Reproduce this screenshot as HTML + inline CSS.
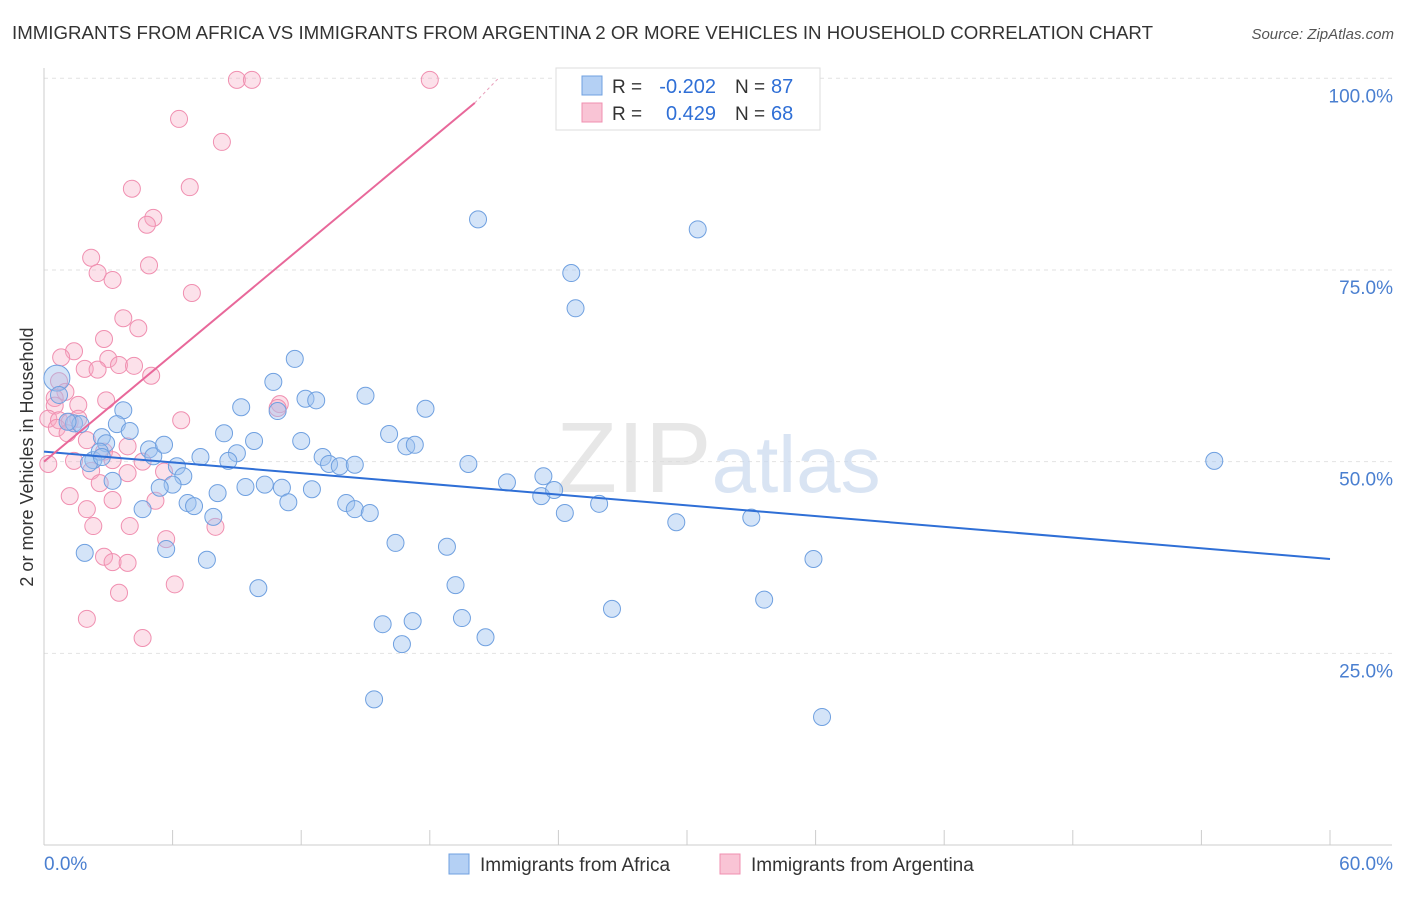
<!DOCTYPE html>
<html><head><meta charset="utf-8">
<style>
body{margin:0;background:#fff;font-family:"Liberation Sans",sans-serif;}
svg text{font-family:"Liberation Sans",sans-serif;}
</style></head>
<body>
<svg id="chart" width="1406" height="892" xmlns="http://www.w3.org/2000/svg">
<text x="12" y="39" font-size="18" fill="#333" textLength="1141" lengthAdjust="spacingAndGlyphs">IMMIGRANTS FROM AFRICA VS IMMIGRANTS FROM ARGENTINA 2 OR MORE VEHICLES IN HOUSEHOLD CORRELATION CHART</text>
<text x="1394" y="39" font-size="15" fill="#555" font-style="italic" text-anchor="end">Source: ZipAtlas.com</text>
<g id="grid"></g>
<text x="556" y="492" font-size="100" fill="#ddd" font-family="Liberation Serif" opacity="0.7">ZIP<tspan fill="#c9d9ef" font-family="Liberation Sans" font-size="80">atlas</tspan></text>
<g id="axes"></g>
<g id="pts"></g>
<g id="trends"></g>
<text transform="translate(33,457) rotate(-90)" font-size="18" fill="#333" text-anchor="middle">2 or more Vehicles in Household</text>
<g>
<rect x="556" y="68" width="264" height="62" fill="#fff" stroke="#ddd"/>
<rect x="582" y="76" width="20" height="19" fill="#b4d0f4" stroke="#6fa0e0"/>
<rect x="582" y="103" width="20" height="19" fill="#f9c4d5" stroke="#f08fb0"/>
<text x="612" y="93" font-size="19" fill="#333">R =</text>
<text x="716" y="93" font-size="20" fill="#2f6fd6" text-anchor="end">-0.202</text>
<text x="735" y="93" font-size="19" fill="#333">N =</text>
<text x="771" y="93" font-size="20" fill="#2f6fd6">87</text>
<text x="612" y="120" font-size="19" fill="#333">R =</text>
<text x="716" y="120" font-size="20" fill="#2f6fd6" text-anchor="end">0.429</text>
<text x="735" y="120" font-size="19" fill="#333">N =</text>
<text x="771" y="120" font-size="20" fill="#2f6fd6">68</text>
</g>
<g>
<rect x="449" y="854" width="20" height="20" fill="#b4d0f4" stroke="#6fa0e0"/>
<text x="480" y="871" font-size="19" fill="#333">Immigrants from Africa</text>
<rect x="720" y="854" width="20" height="20" fill="#f9c4d5" stroke="#f08fb0"/>
<text x="751" y="871" font-size="19" fill="#333">Immigrants from Argentina</text>
</g>
</svg>
<script>
const yTicks=[25,50,75,100];
const yTickLabels=["25.0%","50.0%","75.0%","100.0%"];
const xTickLabels=["0.0%","60.0%"];
const africaX=[20.25,30.5,24.6,24.8,54.6,11.7,10.7,15.0,12.2,12.7,17.8,10.9,9.2,3.7,3.4,4.0,8.4,9.8,12.0,16.1,16.9,17.3,2.7,2.9,4.9,5.1,5.6,7.3,9.0,8.6,13.0,13.3,13.8,14.5,19.8,23.3,21.6,2.3,2.1,6.2,6.5,6.0,5.4,3.2,8.1,9.4,10.3,11.1,12.5,11.4,14.1,14.5,15.2,6.7,7.0,7.9,4.6,23.2,23.8,24.3,25.9,29.5,33.0,16.4,18.8,5.7,1.9,7.6,35.9,10.0,19.2,33.6,26.5,15.8,17.2,19.5,20.6,16.7,15.4,36.3,0.6,0.7,1.4,1.7,1.1,2.6,2.7];
const africaY=[81.6,80.3,74.6,70.0,50.1,63.4,60.4,58.6,58.2,58.0,56.9,56.6,57.1,56.7,54.9,54.0,53.7,52.7,52.7,53.6,52.0,52.2,53.2,52.4,51.6,50.7,52.2,50.6,51.1,50.1,50.6,49.7,49.4,49.6,49.7,48.1,47.3,50.2,49.8,49.4,48.1,47.0,46.6,47.5,45.9,46.7,47.0,46.6,46.4,44.7,44.6,43.8,43.3,44.6,44.2,42.8,43.8,45.5,46.3,43.3,44.5,42.1,42.7,39.4,38.9,38.6,38.1,37.2,37.3,33.5,33.9,32.0,30.8,28.8,29.2,29.6,27.1,26.2,19.0,16.7,60.9,58.7,55.0,54.9,55.2,51.3,50.6];
const argX=[9.0,9.7,18.0,6.3,8.3,4.1,6.8,5.1,4.8,2.2,4.9,2.5,3.2,6.9,3.7,4.4,2.8,1.4,0.8,3.0,3.5,4.2,1.9,2.5,5.0,0.7,1.0,0.5,2.9,1.6,0.5,11.0,10.9,6.4,0.2,0.7,1.2,1.6,0.6,1.1,2.0,3.9,2.8,3.2,1.4,4.6,0.2,5.6,3.9,2.2,2.6,5.2,3.2,1.2,2.0,2.3,4.0,5.7,8.0,2.8,3.2,3.9,6.1,3.5,2.0,4.6];
const argY=[99.8,99.8,99.8,94.7,91.7,85.6,85.8,81.8,80.9,76.6,75.6,74.6,73.7,72.0,68.7,67.4,66.0,64.4,63.6,63.4,62.6,62.5,62.1,62.0,61.2,60.5,59.1,58.3,58.0,57.4,57.3,57.5,57.0,55.4,55.6,55.4,55.2,55.6,54.4,53.7,52.8,52.0,51.3,50.2,50.1,50.0,49.7,48.7,48.5,48.8,47.2,44.9,45.0,45.5,43.8,41.6,41.6,39.9,41.5,37.6,36.9,36.8,34.0,32.9,29.5,27.0];
const africaTrend=[[0,51.3],[60,37.3]];
const argTrend=[[0,50.0],[20.1,96.8]];
const argTrendExt=[[20.1,96.8],[21.2,100]];

const X=v=>44+v*(1286/60);
const Y=v=>845-v*(766.7/100);
const NS="http://www.w3.org/2000/svg";
function mk(tag,attrs,parent){const e=document.createElementNS(NS,tag);for(const k in attrs)e.setAttribute(k,attrs[k]);parent.appendChild(e);return e;}
const grid=document.getElementById('grid'),axes=document.getElementById('axes'),pts=document.getElementById('pts'),tr=document.getElementById('trends');
yTicks.forEach((t,i)=>{
 const l=mk('line',{x1:44,x2:1392,y1:Y(t),y2:Y(t),stroke:'#e2e2e2','stroke-dasharray':'4,4'},grid);
 
 
 const tx=mk('text',{x:1393,y:Y(t)+24,'font-size':19,fill:'#4a7fd0','text-anchor':'end'},axes);
 tx.textContent=yTickLabels[i];
 
 
});
const al=mk('line',{x1:44,x2:44,y1:68,y2:845,stroke:'#ccc'},axes);


const bl=mk('line',{x1:44,x2:1392,y1:845,y2:845,stroke:'#ccc'},axes);


for(let i=0;i<=10;i++){
 const t=mk('line',{x1:X(i*6),x2:X(i*6),y1:830,y2:845,stroke:'#ccc'},axes);
 
 
}
const x0=mk('text',{x:44,y:870,'font-size':19,fill:'#4a7fd0'},axes);x0.textContent=xTickLabels[0];


const x1=mk('text',{x:1393,y:870,'font-size':19,fill:'#4a7fd0','text-anchor':'end'},axes);x1.textContent=xTickLabels[1];


function drawPts(xs,ys,fill,stroke,name){
 xs.forEach((v,i)=>{
  const r=(i===80&&name==='africa-point')?13:8.5;
  const c=mk('circle',{cx:X(v),cy:Y(ys[i]),r:r,fill:fill,stroke:stroke,'stroke-width':1},pts);
  
  
 });
}
drawPts(argX,argY,'rgba(245,170,195,0.35)','#f08fb0','argentina-point');
drawPts(africaX,africaY,'rgba(160,196,240,0.45)','#6fa0e0','africa-point');
const l1=mk('line',{x1:X(africaTrend[0][0]),y1:Y(africaTrend[0][1]),x2:X(africaTrend[1][0]),y2:Y(africaTrend[1][1]),stroke:'#2f6fd6','stroke-width':2},tr);


const l2=mk('line',{x1:X(argTrend[0][0]),y1:Y(argTrend[0][1]),x2:X(argTrend[1][0]),y2:Y(argTrend[1][1]),stroke:'#e8689a','stroke-width':2},tr);


const l3=mk('line',{x1:X(argTrendExt[0][0]),y1:Y(argTrendExt[0][1]),x2:X(argTrendExt[1][0]),y2:Y(argTrendExt[1][1]),stroke:'#e8a0bb','stroke-width':1,'stroke-dasharray':'3,3'},tr);


</script>
</body></html>
